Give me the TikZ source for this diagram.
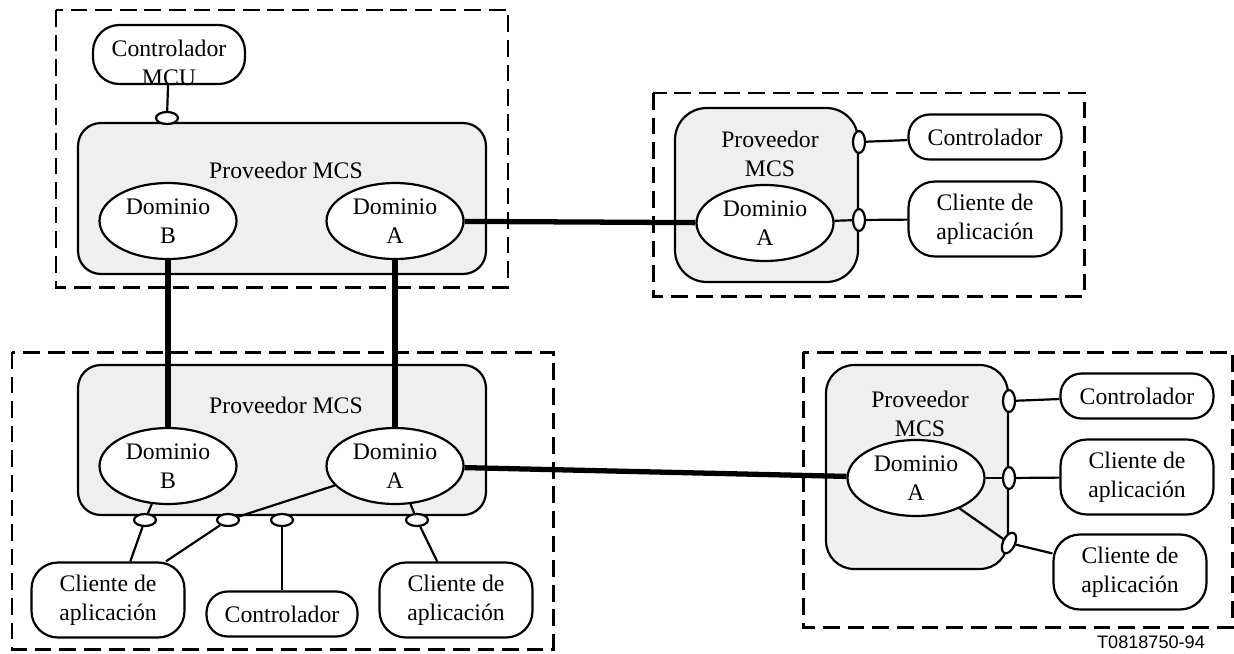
\documentclass[tikz,border=0pt]{standalone}
\usepackage{fontspec}
\setmainfont{Liberation Serif}
\newfontfamily\tagfont{Liberation Sans}
\usetikzlibrary{shapes.geometric}
\definecolor{mcsgray}{RGB}{239,239,239}

\begin{document}
\begin{tikzpicture}[x=0.02cm, y=-0.02cm, line width=1.25pt,
      every node/.style={font=\fontsize{13.5}{16.5}\selectfont, align=center},
      group/.style={line width=1.7pt, dash pattern=on 9.5pt off 4.5pt},
      prov/.style={draw, fill=mcsgray, rounded corners=13pt, inner sep=0pt},
      dom/.style={draw, fill=white, ellipse, inner sep=0pt, minimum width=2.74cm, minimum height=1.52cm},
      app/.style={draw, fill=white, rounded corners=15pt, inner sep=0pt, minimum width=3.06cm, minimum height=1.5cm},
      ctl/.style={app, rounded corners=12pt, minimum height=0.9cm},
      port/.style={draw, fill=white, ellipse, inner sep=0pt, minimum width=0.44cm, minimum height=0.24cm},
      vport/.style={port, minimum width=0.24cm, minimum height=0.44cm},
      link/.style={line width=3pt}]
      \useasboundingbox (0,0) rectangle (1234,653);

      \draw[group] (56,10) rectangle (508,287);
      \draw[group] (653,93) rectangle (1084,296);
      \draw[group] (12,352) rectangle (553,649);
      \draw[group] (803,352) rectangle (1232,627);

      \node[prov, minimum width=8.16cm, minimum height=3.02cm] (mcsT) at (282,198.5) {};
      \node[prov, rounded corners=18pt, minimum width=3.66cm, minimum height=3.48cm] (mcsTR) at (766.5,195) {};
      \node[prov, minimum width=8.16cm, minimum height=3.0cm] (mcsB) at (282,440) {};
      \node[prov, rounded corners=16pt, minimum width=3.64cm, minimum height=4.08cm] (mcsBR) at (917,467) {};

      \node (lblT) at (286,170) {Proveedor MCS};
      \node (lblTR) at (770,154) {Proveedor\\MCS};
      \node (lblB) at (286,405) {Proveedor MCS};
      \node (lblBR) at (920,414) {Proveedor\\MCS};

      \node[dom] (tB) at (168,221) {Dominio\\B};
      \node[dom] (tA) at (395,221) {Dominio\\A};
      \node[dom] (trA) at (765,223) {Dominio\\A};
      \node[dom] (bB) at (168,466) {Dominio\\B};
      \node[dom] (bA) at (395,466) {Dominio\\A};
      \node[dom] (brA) at (916,478) {Dominio\\A};

      \node[app, minimum width=3.04cm, minimum height=1.18cm] (mcu) at (169,54.5) {};
      \node (mcuTxt) at (169,63) {Controlador\\MCU};
      \node[ctl] (trCtl) at (985,137) {Controlador};
      \node[app] (trCli) at (985,219) {Cliente de\\aplicación};
      \node[app] (bCliL) at (108,600) {Cliente de\\aplicación};
      \node[ctl, minimum width=3.02cm] (bCtl) at (282,614) {Controlador};
      \node[app] (bCliR) at (456,600) {Cliente de\\aplicación};
      \node[ctl] (brCtl) at (1137,396) {Controlador};
      \node[app] (brCli1) at (1137,477) {Cliente de\\aplicación};
      \node[app] (brCli2) at (1130,572) {Cliente de\\aplicación};

      \node[port] (pMcu) at (167,118) {};
      \node[port] (p1) at (145,520) {};
      \node[port] (p2) at (228,520) {};
      \node[port] (p3) at (282,520) {};
      \node[port] (p4) at (417,520) {};
      \node[vport] (pT1) at (859,142) {};
      \node[vport] (pT2) at (859,220) {};
      \node[vport] (pR1) at (1009,401) {};
      \node[vport] (pR2) at (1009,478) {};
      \node[vport, rotate=-25] (pR3) at (1009,543) {};

      \node[font=\tagfont\fontsize{10.3}{12}\selectfont] (tag) at (1151,642) {T0818750-94};

      \draw (mcu) -- (pMcu);
      \draw (pT1) -- (trCtl);
      \draw (trA) -- (pT2);
      \draw (pT2) -- (trCli);
      \draw (bB) -- (p1);
      \draw (p1) -- (bCliL.60);
      \draw (bA) -- (p2);
      \draw (p2) -- (bCliL);
      \draw (p3) -- (bCtl);
      \draw (bA) -- (p4);
      \draw (p4) -- (bCliR);
      \draw (pR1) -- (brCtl);
      \draw (brA) -- (pR2);
      \draw (pR2) -- (brCli1);
      \draw (brA) -- (pR3);
      \draw (pR3) -- (brCli2);

      \draw[link] (tA) -- (trA);
      \draw[link] (tB) -- (bB);
      \draw[link] (tA) -- (bA);
      \draw[link] (bA) -- (brA);
    \end{tikzpicture}
\end{document}
